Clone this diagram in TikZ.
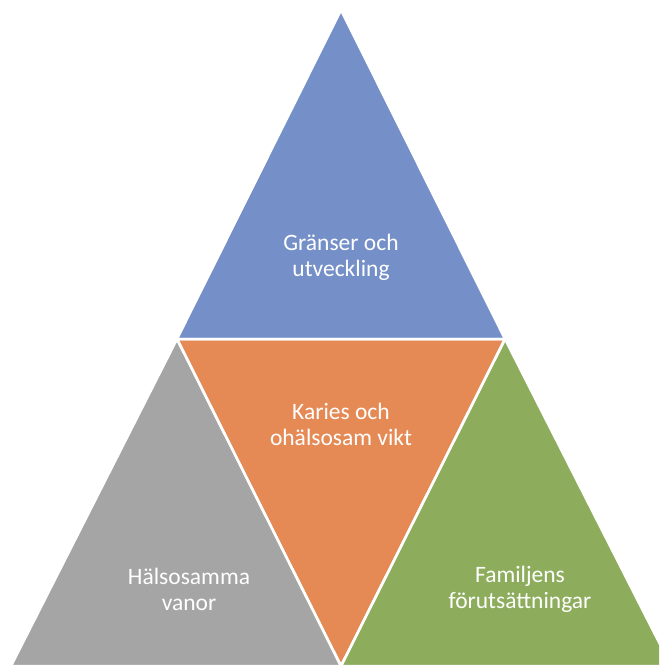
\documentclass[tikz,border=0pt]{standalone}
\usepackage{fontspec}
\setmainfont{Carlito}
\definecolor{cblue}{HTML}{758FC8}
\definecolor{corange}{HTML}{E58A55}
\definecolor{cgray}{HTML}{A5A5A5}
\definecolor{cgreen}{HTML}{8DAD5D}
\begin{document}
\begin{tikzpicture}[x=1pt,y=-1pt,
  tri/.style={draw=white,line width=2.5pt,line join=miter},
  lbl/.style={text=white,font=\fontsize{23.5}{26}\selectfont,align=center}]
\useasboundingbox (0,0) rectangle (659,666);
\begin{scope}
\clip (0,0) rectangle (659,666);
\coordinate (A) at (341,10);
\coordinate (L) at (177,339);
\coordinate (R) at (505,339);
\coordinate (B) at (341,666);
\coordinate (BL) at (11,666);
\coordinate (BR) at (671,666);
\fill[cblue] (A) -- (R) -- (L) -- cycle;
\fill[cgray] (L) -- (B) -- (BL) -- cycle;
\fill[cgreen] (R) -- (BR) -- (B) -- cycle;
\fill[corange] (L) -- (R) -- (B) -- cycle;
\draw[tri] (A) -- (R) -- (L) -- cycle;
\draw[tri] (L) -- (B) -- (BL) -- cycle;
\draw[tri] (R) -- (BR) -- (B) -- cycle;
\draw[tri] (L) -- (R) -- (B) -- cycle;
\end{scope}
\node[lbl] (t1) at (341,257) {Gränser och\\utveckling};
\node[lbl] (t2) at (341,424) {Karies och\\ohälsosam vikt};
\node[lbl] (t3) at (189,589) {Hälsosamma\\vanor};
\node[lbl] (t4) at (520,589) {Familjens\\förutsättningar};
\end{tikzpicture}
\end{document}
